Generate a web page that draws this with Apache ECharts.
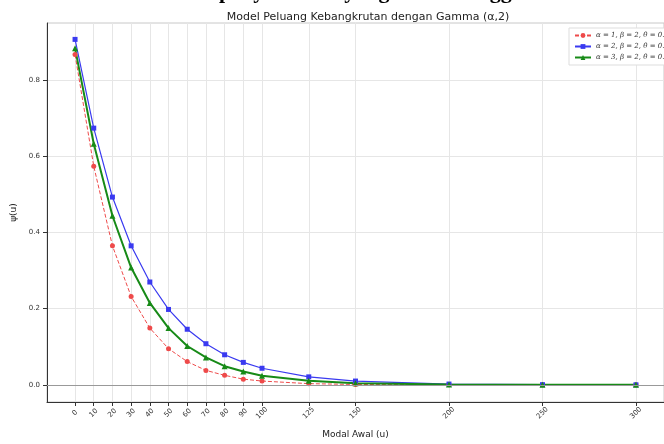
<!DOCTYPE html>
<html>
<head>
<meta charset="utf-8">
<script src="https://cdn.jsdelivr.net/npm/echarts@6/dist/echarts.min.js"></script>
<style>
  html, body { margin: 0; padding: 0; background: #fff; }
  #main { width: 664px; height: 444px; }
</style>
</head>
<body>
<div id="main"></div>
<script>
// modal awal u
var u = [0, 10, 20, 30, 40, 50, 60, 70, 80, 90, 100, 125, 150, 200, 250, 300];
// psi(u) per alpha
var psiA1 = [0.867, 0.574, 0.365, 0.232, 0.149, 0.095, 0.061, 0.038, 0.025, 0.015, 0.010, 0.0032, 0.0010, 0.0001, 0.00001, 0.0];
var psiA2 = [0.907, 0.674, 0.493, 0.365, 0.270, 0.198, 0.146, 0.108, 0.079, 0.059, 0.0436, 0.021, 0.010, 0.0021, 0.0005, 0.0001];
var psiA3 = [0.884, 0.633, 0.444, 0.308, 0.215, 0.149, 0.102, 0.072, 0.049, 0.035, 0.024, 0.011, 0.0045, 0.0008, 0.0001, 0.00002];
var yTicks = [0, 0.2, 0.4, 0.6, 0.8];
var names = ['α = 1, β = 2, θ = 0.1', 'α = 2, β = 2, θ = 0.1', 'α = 3, β = 2, θ = 0.1'];

function pairs(ys) {
    return u.map(function (x, i) { return [x, ys[i]]; });
}

var font = 'DejaVu Sans';
var chart = echarts.init(document.getElementById('main'));

chart.setOption({
    animation: false,
    textStyle: { fontFamily: font },
    title: {
        text: 'Model Peluang Kebangkrutan dengan Gamma (α,2)',
        left: 363,
        top: 7,
        textAlign: 'center',
        textStyle: { fontSize: 11, fontWeight: 'normal', color: '#222', fontFamily: font }
    },
    // potongan judul dokumen di atas gambar
    graphic: [{
        type: 'text',
        left: 150,
        top: -19,
        style: {
            text: 'Grafik penyelesaian yang sama menggunakan sebaran Gamma (α,2)',
            font: 'bold 22px "Liberation Serif"',
            fill: '#000'
        }
    }],
    legend: {
        left: 569,
        top: 28,
        orient: 'vertical',
        itemWidth: 16,
        itemHeight: 6,
        itemGap: 4,
        padding: [4, 5],
        borderColor: '#ddd',
        borderWidth: 1,
        backgroundColor: '#fff',
        textStyle: { fontSize: 7, color: '#333', fontFamily: 'DejaVu Serif', fontStyle: 'italic' },
        data: names
    },
    grid: { left: 47, top: 23, right: -11, bottom: 33, show: true, borderColor: '#c8c8c8', borderWidth: 1 },
    xAxis: {
        type: 'value',
        min: -15,
        max: 315,
        name: 'Modal Awal (u)',
        nameLocation: 'middle',
        nameGap: 28,
        nameTextStyle: { fontSize: 9, color: '#222' },
        axisLine: { onZero: false, lineStyle: { color: '#333', width: 1 } },
        axisTick: { show: true, inside: false, length: 4, customValues: u, lineStyle: { color: '#333' } },
        axisLabel: {
            customValues: u,
            rotate: 45,
            align: 'center',
            verticalAlign: 'middle',
            margin: 11,
            fontSize: 7,
            color: '#333'
        },
        splitLine: { show: true, lineStyle: { color: '#e6e6e6', width: 1 } }
    },
    yAxis: {
        type: 'value',
        min: -0.045,
        max: 0.95,
        name: 'ψ(u)',
        nameLocation: 'middle',
        nameGap: 27,
        nameTextStyle: { fontSize: 9, color: '#222' },
        axisLine: { show: true, onZero: false, lineStyle: { color: '#333', width: 1 } },
        axisTick: { show: true, inside: false, length: 4, customValues: yTicks, lineStyle: { color: '#333' } },
        axisLabel: {
            customValues: yTicks,
            margin: 7,
            fontSize: 7,
            color: '#333',
            formatter: function (v) { return v.toFixed(1); }
        },
        splitLine: { show: true, lineStyle: { color: '#e6e6e6', width: 1 } }
    },
    series: [
        {
            name: names[0],
            type: 'line',
            data: pairs(psiA1),
            symbol: 'circle',
            symbolSize: 5,
            itemStyle: { color: '#ee4a4a' },
            lineStyle: { color: '#ee4a4a', width: 1, type: [4, 2] },
            markLine: {
                silent: true,
                symbol: 'none',
                label: { show: false },
                lineStyle: { color: '#999', type: 'solid', width: 1 },
                data: [{ yAxis: 0 }]
            }
        },
        {
            name: names[1],
            type: 'line',
            data: pairs(psiA2),
            symbol: 'rect',
            symbolSize: 5,
            itemStyle: { color: '#3a3af0' },
            lineStyle: { color: '#3a3af0', width: 1.2 }
        },
        {
            name: names[2],
            type: 'line',
            data: pairs(psiA3),
            symbol: 'triangle',
            symbolSize: 6,
            itemStyle: { color: '#178a17' },
            lineStyle: { color: '#178a17', width: 2 }
        }
    ]
});
</script>
</body>
</html>
